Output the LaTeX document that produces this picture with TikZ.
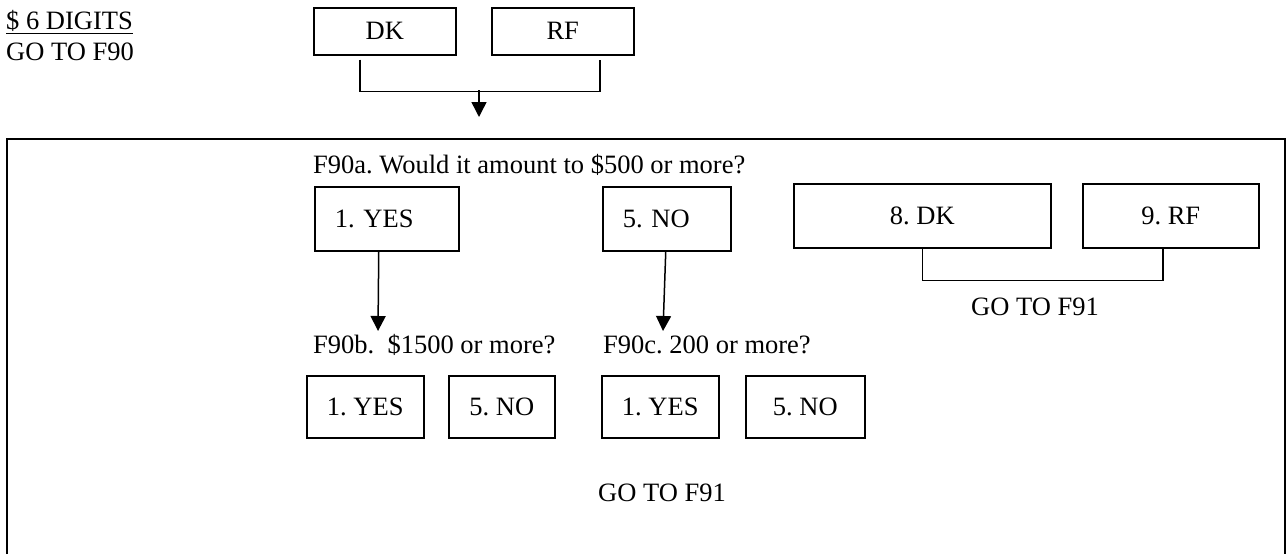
\documentclass[tikz,border=0pt]{standalone}
\usepackage{fontspec}
\setmainfont{Liberation Serif}
\usetikzlibrary{arrows.meta}
\newcommand{\tnr}{\fontsize{26.5}{30}\selectfont\frenchspacing}
\tikzset{
  box/.style={draw, line width=1.5pt, inner sep=0pt, font=\tnr},
  lbl/.style={inner sep=0pt, font=\tnr},
  conn/.style={line width=1.5pt},
  arr/.style={line width=1.5pt, -{Triangle[width=15pt,length=15pt]}},
  frame/.style={line width=2pt}
}
\begin{document}
\begin{tikzpicture}[x=1pt,y=-1pt]
\useasboundingbox (0,0) rectangle (1287,554);
% top-left
\node[lbl, anchor=west] (digits) at (6,22) {\underline{\$ 6 DIGITS}};
\node[lbl, anchor=west] (goto90) at (6,52) {GO TO F90};
% top DK / RF
\node[box, anchor=north west, minimum width=142pt, minimum height=47pt] (dk) at (313,7) {DK};
\node[box, anchor=north west, minimum width=142pt, minimum height=47pt] (rf) at (491,7) {RF};
\draw[conn] ([xshift=-25pt,yshift=-4pt]dk.south) -- ++(0,32) -| ([xshift=37pt,yshift=-4pt]rf.south);
\coordinate (j1) at (479,90);
\coordinate (t1) at (479,117);
\draw[arr] (j1) -- (t1);
% frame
\draw[frame] (7,554) -- (7,139) -- (1285,139) -- (1285,554);
% F90a
\node[lbl, anchor=west] (qa) at (313,165) {F90a. Would it amount to \$500 or more?};
\node[box, anchor=north west, minimum height=64pt, text width=104pt, inner xsep=20pt, align=left] (yes) at (314,186) {1. YES};
\node[box, anchor=north west, minimum height=64pt, text width=88pt, inner xsep=20pt, align=left] (no) at (602,186) {5. NO};
\node[box, anchor=north west, minimum height=64pt, minimum width=257pt] (dk8) at (793,183) {8. DK};
\node[box, anchor=north west, minimum height=64pt, minimum width=176pt] (rf9) at (1082,183) {9. RF};
\draw[conn] (dk8.south) -- ++(0,32) -| ([xshift=-8pt]rf9.south);
\node[lbl] (go91a) at (1035,307) {GO TO F91};
% arrows down
\coordinate (ta) at (378,331);
\coordinate (tb) at (663,331);
\draw[arr] ([xshift=-8pt]yes.south) -- (ta);
\draw[arr] ([xshift=-1pt]no.south) -- (tb);
% F90b / F90c
\node[lbl, anchor=west] (qb) at (313,345) {F90b.\ \ \$1500 or more?};
\node[lbl, anchor=west] (qc) at (603,345) {F90c. 200 or more?};
\node[box, anchor=north west, minimum height=62pt, minimum width=117pt] (byes) at (306,375) {1. YES};
\node[box, anchor=north west, minimum height=62pt, minimum width=106pt] (bno) at (448,375) {5. NO};
\node[box, anchor=north west, minimum height=62pt, minimum width=117pt] (cyes) at (601,375) {1. YES};
\node[box, anchor=north west, minimum height=62pt, minimum width=119pt] (cno) at (745,375) {5. NO};
% bottom
\node[lbl] (go91b) at (662,493) {GO TO F91};
\end{tikzpicture}
\end{document}
